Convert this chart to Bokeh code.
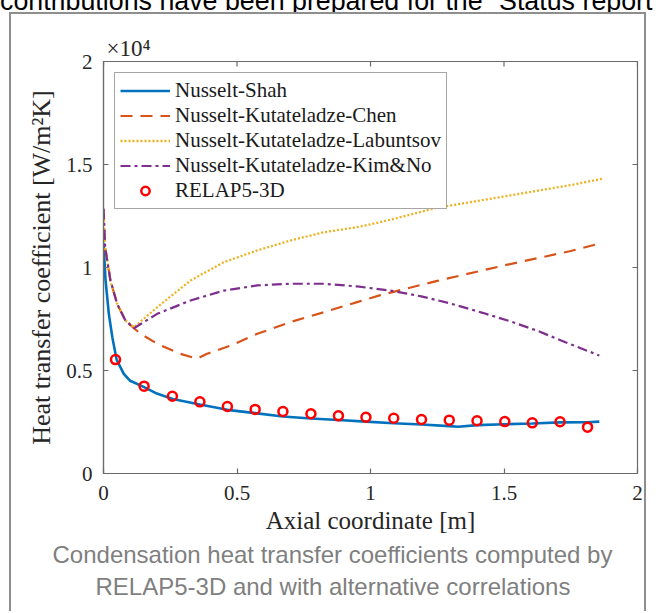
from bokeh.plotting import figure
from bokeh.models import Range1d, FixedTicker, Legend, LegendItem, Title, Div
from bokeh.layouts import column
from bokeh.embed import file_html
from bokeh.resources import INLINE

# ---------------- texts ----------------
top_text = "contributions have been prepared for the \u201cStatus report"
caption_line1 = "Condensation heat transfer coefficients computed by"
caption_line2 = "RELAP5-3D and with alternative correlations"
x_label = "Axial coordinate [m]"
y_label = "Heat transfer coefficient [W/m\u00b2K]"
exponent_label = "\u00d710\u2074"

x_ticks = [0, 0.5, 1, 1.5, 2]
x_tick_labels = ["0", "0.5", "1", "1.5", "2"]
y_ticks = [0, 5000, 10000, 15000, 20000]
y_tick_labels = ["0", "0.5", "1", "1.5", "2"]

series_names = ["Nusselt-Shah", "Nusselt-Kutateladze-Chen",
                "Nusselt-Kutateladze-Labuntsov", "Nusselt-Kutateladze-Kim&No",
                "RELAP5-3D"]

# ---------------- data (W/m2K) ----------------
shah_x = [0.0, 0.0075, 0.02, 0.033, 0.049, 0.076, 0.1, 0.152, 0.2, 0.259, 0.361,
          0.464, 0.568, 0.672, 0.777, 0.880, 0.983, 1.087, 1.191, 1.295, 1.329,
          1.399, 1.503, 1.606, 1.710, 1.813, 1.857]
shah_y = [11200, 9400, 7750, 6620, 5530, 4840, 4500, 4190, 3880, 3620, 3350,
          3090, 2930, 2770, 2670, 2600, 2520, 2440, 2380, 2300, 2270,
          2350, 2390, 2430, 2480, 2490, 2520]

chen_x = [0.0, 0.006, 0.026, 0.051, 0.082, 0.114, 0.139, 0.201, 0.288, 0.351,
          0.388, 0.476, 0.576, 0.700, 0.825, 0.950, 1.037, 1.25, 1.5, 1.75, 1.861]
chen_y = [12850, 10990, 9370, 8240, 7430, 7050, 6780, 6300, 5810, 5570,
          5810, 6210, 6780, 7350, 7830, 8320, 8660, 9350, 10100, 10800, 11170]

labuntsov_x = [0.0, 0.006, 0.026, 0.051, 0.082, 0.114, 0.201, 0.326, 0.451,
               0.576, 0.700, 0.825, 0.950, 1.037, 1.25, 1.5, 1.75, 1.873]
labuntsov_y = [12700, 10990, 9370, 8240, 7430, 7100, 8070, 9370, 10260,
               10830, 11310, 11710, 11960, 12200, 12900, 13450, 14000, 14320]

kimno_x = [0.0, 0.006, 0.026, 0.051, 0.082, 0.114, 0.201, 0.326, 0.451, 0.576,
           0.700, 0.825, 0.950, 1.075, 1.19, 1.30, 1.42, 1.52, 1.623, 1.73, 1.857]
kimno_y = [12850, 10990, 9370, 8240, 7430, 7050, 7750, 8400, 8880, 9130,
           9210, 9210, 9080, 8880, 8600, 8250, 7800, 7400, 6940, 6370, 5730]

relap_x = [0.045, 0.152, 0.258, 0.361, 0.464, 0.568, 0.672, 0.777, 0.880,
           0.983, 1.087, 1.191, 1.295, 1.399, 1.503, 1.606, 1.710, 1.813]
relap_y = [5530, 4240, 3750, 3480, 3250, 3110, 3010, 2900, 2800,
           2730, 2680, 2620, 2590, 2560, 2520, 2460, 2510, 2250]

SERIF = "Liberation Serif"
SANS = "Liberation Sans"
AXIS_COLOR = "#6a6a6a"
TEXT_COLOR = "#262626"
FRAME_W, FRAME_H = 534, 412

p = figure(width=637, height=599,
           x_range=Range1d(x_ticks[0], x_ticks[-1]), y_range=Range1d(y_ticks[0], y_ticks[-1]),
           output_backend="svg", toolbar_location=None,
           min_border_left=92, min_border_right=11, min_border_top=47, min_border_bottom=140,
           margin=(0, 0, 0, 9),
           styles={"border": "2px solid #8e8e8e", "border-bottom": "none"})
p.title = None
p.grid.visible = False
p.outline_line_color = AXIS_COLOR
p.outline_line_width = 1.2
p.outline_line_alpha = 1
p.background_fill_color = "white"
p.border_fill_color = "white"


def style_axis(ax, ticks, labels):
    ax.ticker = FixedTicker(ticks=ticks)
    ax.major_label_overrides = {t: l for t, l in zip(ticks, labels)}
    ax.major_tick_in = 5
    ax.major_tick_out = 0
    ax.minor_tick_in = 0
    ax.minor_tick_out = 0
    ax.axis_line_color = AXIS_COLOR
    ax.axis_line_width = 1.2
    ax.major_tick_line_color = AXIS_COLOR
    ax.major_tick_line_width = 1.2
    ax.major_label_text_font = SERIF
    ax.major_label_text_color = TEXT_COLOR
    ax.major_label_text_font_size = "21px"
    ax.axis_label_text_font = SERIF
    ax.axis_label_text_font_style = "normal"
    ax.axis_label_text_color = TEXT_COLOR


style_axis(p.xaxis[0], x_ticks, x_tick_labels)
style_axis(p.yaxis[0], y_ticks, y_tick_labels)
p.xaxis[0].axis_label = x_label
p.yaxis[0].axis_label = y_label
p.xaxis[0].axis_label_text_font_size = "25px"
p.yaxis[0].axis_label_text_font_size = "26px"
p.xaxis[0].major_label_standoff = 12
p.xaxis[0].axis_label_standoff = 4
p.yaxis[0].major_label_standoff = 11
p.yaxis[0].axis_label_standoff = 7

# mirrored inward ticks on top and right edges of the box (MATLAB "box on")
tick_len_y = 5 * (y_ticks[-1] - y_ticks[0]) / FRAME_H
tick_len_x = 5 * (x_ticks[-1] - x_ticks[0]) / FRAME_W
p.segment(x0=x_ticks, y0=[y_ticks[-1]] * len(x_ticks),
          x1=x_ticks, y1=[y_ticks[-1] - tick_len_y] * len(x_ticks),
          line_color=AXIS_COLOR, line_width=1.2)
p.segment(x0=[x_ticks[-1]] * len(y_ticks), y0=y_ticks,
          x1=[x_ticks[-1] - tick_len_x] * len(y_ticks), y1=y_ticks,
          line_color=AXIS_COLOR, line_width=1.2)

exp_title = Title(text=exponent_label, align="left", offset=3,
                  text_font=SERIF, text_font_size="23px", text_font_style="normal",
                  text_color=TEXT_COLOR, standoff=2)
p.add_layout(exp_title, "above")

cap1 = Title(text=caption_line1, align="left", offset=-51, text_font=SANS,
             text_font_size="24px", text_font_style="normal", text_color="#7f7f7f", standoff=4)
cap2 = Title(text=caption_line2, align="left", offset=-8, text_font=SANS,
             text_font_size="24px", text_font_style="normal", text_color="#7f7f7f", standoff=3)
p.add_layout(cap1, "below")
p.add_layout(cap2, "below")

r_shah = p.line(shah_x, shah_y, line_color="#0072BD", line_width=2.6)
r_chen = p.line(chen_x, chen_y, line_color="#D95319", line_width=2.2, line_dash="12 8")
r_lab = p.line(labuntsov_x, labuntsov_y, line_color="#EDB120", line_width=2.3, line_dash="2 2")
r_kim = p.line(kimno_x, kimno_y, line_color="#7E2F8E", line_width=2.2, line_dash="10 4 3 4")
r_relap = p.scatter(relap_x, relap_y, marker="circle", size=9, line_color="#FF0000",
                    fill_color=None, line_width=2.5)

legend = Legend(items=[LegendItem(label=series_names[0], renderers=[r_shah]),
                       LegendItem(label=series_names[1], renderers=[r_chen]),
                       LegendItem(label=series_names[2], renderers=[r_lab]),
                       LegendItem(label=series_names[3], renderers=[r_kim]),
                       LegendItem(label=series_names[4], renderers=[r_relap])],
                location="top_left", margin=11, padding=5, spacing=0,
                glyph_width=50, glyph_height=21, label_height=21, label_standoff=5,
                label_text_font=SERIF, label_text_font_size="21px",
                label_text_color="#1a1a1a",
                border_line_color="#4d4d4d", border_line_width=1,
                background_fill_color="white", background_fill_alpha=1)
p.add_layout(legend, "center")

top_div = Div(text=('<div style="position:relative;top:-12.5px;left:0px;'
                    "font-family:'Liberation Sans';font-size:26.8px;line-height:26.8px;"
                    'color:#000;white-space:nowrap">' + top_text + '</div>'),
              width=656, height=12, margin=0, styles={"overflow": "hidden"})

layout = column(top_div, p, margin=0, spacing=0)

open("out.html", "w").write(file_html(layout, INLINE))
